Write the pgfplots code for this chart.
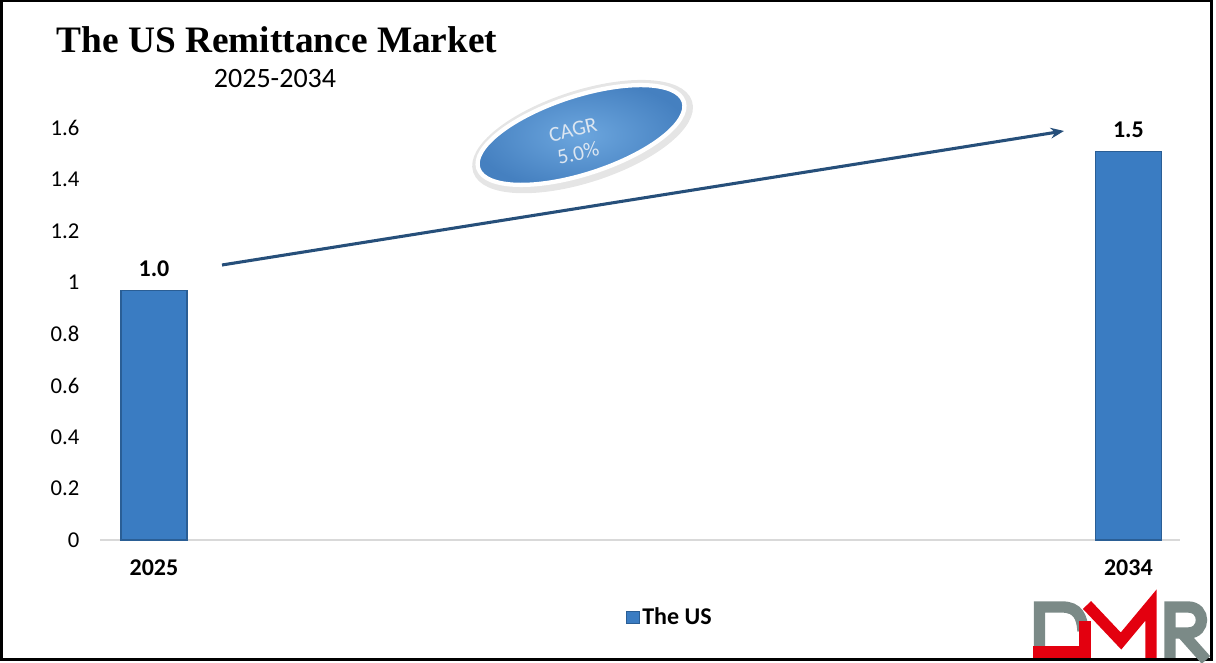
\documentclass[border=0pt]{standalone}
\usepackage{fontspec}
\setmainfont{Carlito}
\newfontfamily\titlefont{Liberation Serif}
\usepackage{pgfplots}
\pgfplotsset{compat=1.18}
\usetikzlibrary{arrows.meta}

\definecolor{barblue}{HTML}{3A7CC2}
\definecolor{bardark}{HTML}{2A5E95}
\definecolor{arrowblue}{HTML}{264F7A}
\definecolor{ellinner}{HTML}{6CA6DE}
\definecolor{ellouter}{HTML}{4580C0}
\definecolor{elltext}{HTML}{DCE6F1}
\definecolor{basegray}{HTML}{D9D9D9}
\definecolor{dmrgray}{HTML}{7B8A87}
\definecolor{dmrred}{HTML}{E3000F}

\begin{document}
\begin{tikzpicture}[x=0.75pt, y=0.75pt]
\useasboundingbox (0,0) rectangle (1216,663);

\begin{axis}[
  at={(75pt,92.25pt)}, anchor=south west,
  scale only axis, width=810pt, height=309pt,
  xmin=-0.0554, xmax=1.053, ymin=0, ymax=1.6,
  ytick={0,0.2,0.4,0.6,0.8,1,1.2,1.4,1.6},
  xtick={0,1}, xticklabels={2025,2034},
  axis x line*=bottom, axis y line*=left,
  y axis line style={draw=none},
  x axis line style={draw=basegray, line width=1.5pt},
  major tick length=0pt,
  /pgf/number format/assume math mode=true,
  yticklabel style={font=\fontsize{17}{20}\selectfont, xshift=-12pt},
  xticklabel style={font=\bfseries\fontsize{18}{21}\selectfont, yshift=-11pt},
  ybar, bar width=49.5pt, bar shift=0pt,
  nodes near coords, point meta=explicit symbolic,
  every node near coord/.append style={font=\bfseries\fontsize{18}{21}\selectfont, yshift=6.5pt},
  legend style={at={(0.528,-0.187)}, anchor=center, draw=none,
    font=\bfseries\fontsize{18}{21}\selectfont},
  legend image code/.code={\draw[bardark, fill=barblue, line width=0.6pt] (0pt,-4.5pt) rectangle (9.5pt,4.5pt);},
  clip=false,
]
\addplot[fill=barblue, draw=bardark, line width=0.8pt]
  coordinates {(0,0.97) [1.0] (1,1.51) [1.5]};
\legend{The US}
\end{axis}

% growth arrow
\draw[arrowblue, line width=2.3pt, -{Stealth[length=10pt, width=8pt]}] (222,398) -- (1064,532);

% CAGR ellipse
\begin{scope}[shift={(581,528)}, rotate=18]
  \draw[black!10, line width=6pt] (1,-2) ellipse [x radius=111, y radius=42];
  \shadedraw[inner color=ellinner, outer color=ellouter, draw=white, line width=3.2pt]
    (0,0) ellipse [x radius=108, y radius=39];
\end{scope}
\node[rotate=13, text=elltext, font=\fontsize{16}{19}\selectfont] at (573,533) {CAGR};
\node[rotate=13, text=elltext, font=\fontsize{16}{19}\selectfont] at (578,510) {5.0\%};

% titles
\node[anchor=base, font=\titlefont\bfseries\fontsize{28}{32}\selectfont] at (277,610) {The US Remittance Market};
\node[anchor=base, font=\fontsize{21}{25}\selectfont] at (275,575) {2025-2034};

% frame
\draw[black, line width=2.25pt] (1,3.5) rectangle (1211.5,662);

% logo
\draw[dmrgray, line width=8.5pt, line join=miter]
  (1039.5,16) -- (1039.5,56) -- (1062,56) .. controls (1078,56) and (1082,46) .. (1083,32);
\draw[dmrred, line width=8.5pt, line join=miter] (1033,11) -- (1085,11) -- (1085,42);
\draw[dmrred, line width=8.5pt, line join=miter] (1087,58) -- (1121,22) -- (1151,58) -- (1151,5);
\draw[dmrgray, line width=8.5pt, line join=miter]
  (1170,5) -- (1170,56) -- (1188,56) .. controls (1206,56) and (1206,30) .. (1188,30) -- (1173,30);
\draw[dmrgray, line width=8.5pt] (1182,30) -- (1206,3);
\end{tikzpicture}
\end{document}
